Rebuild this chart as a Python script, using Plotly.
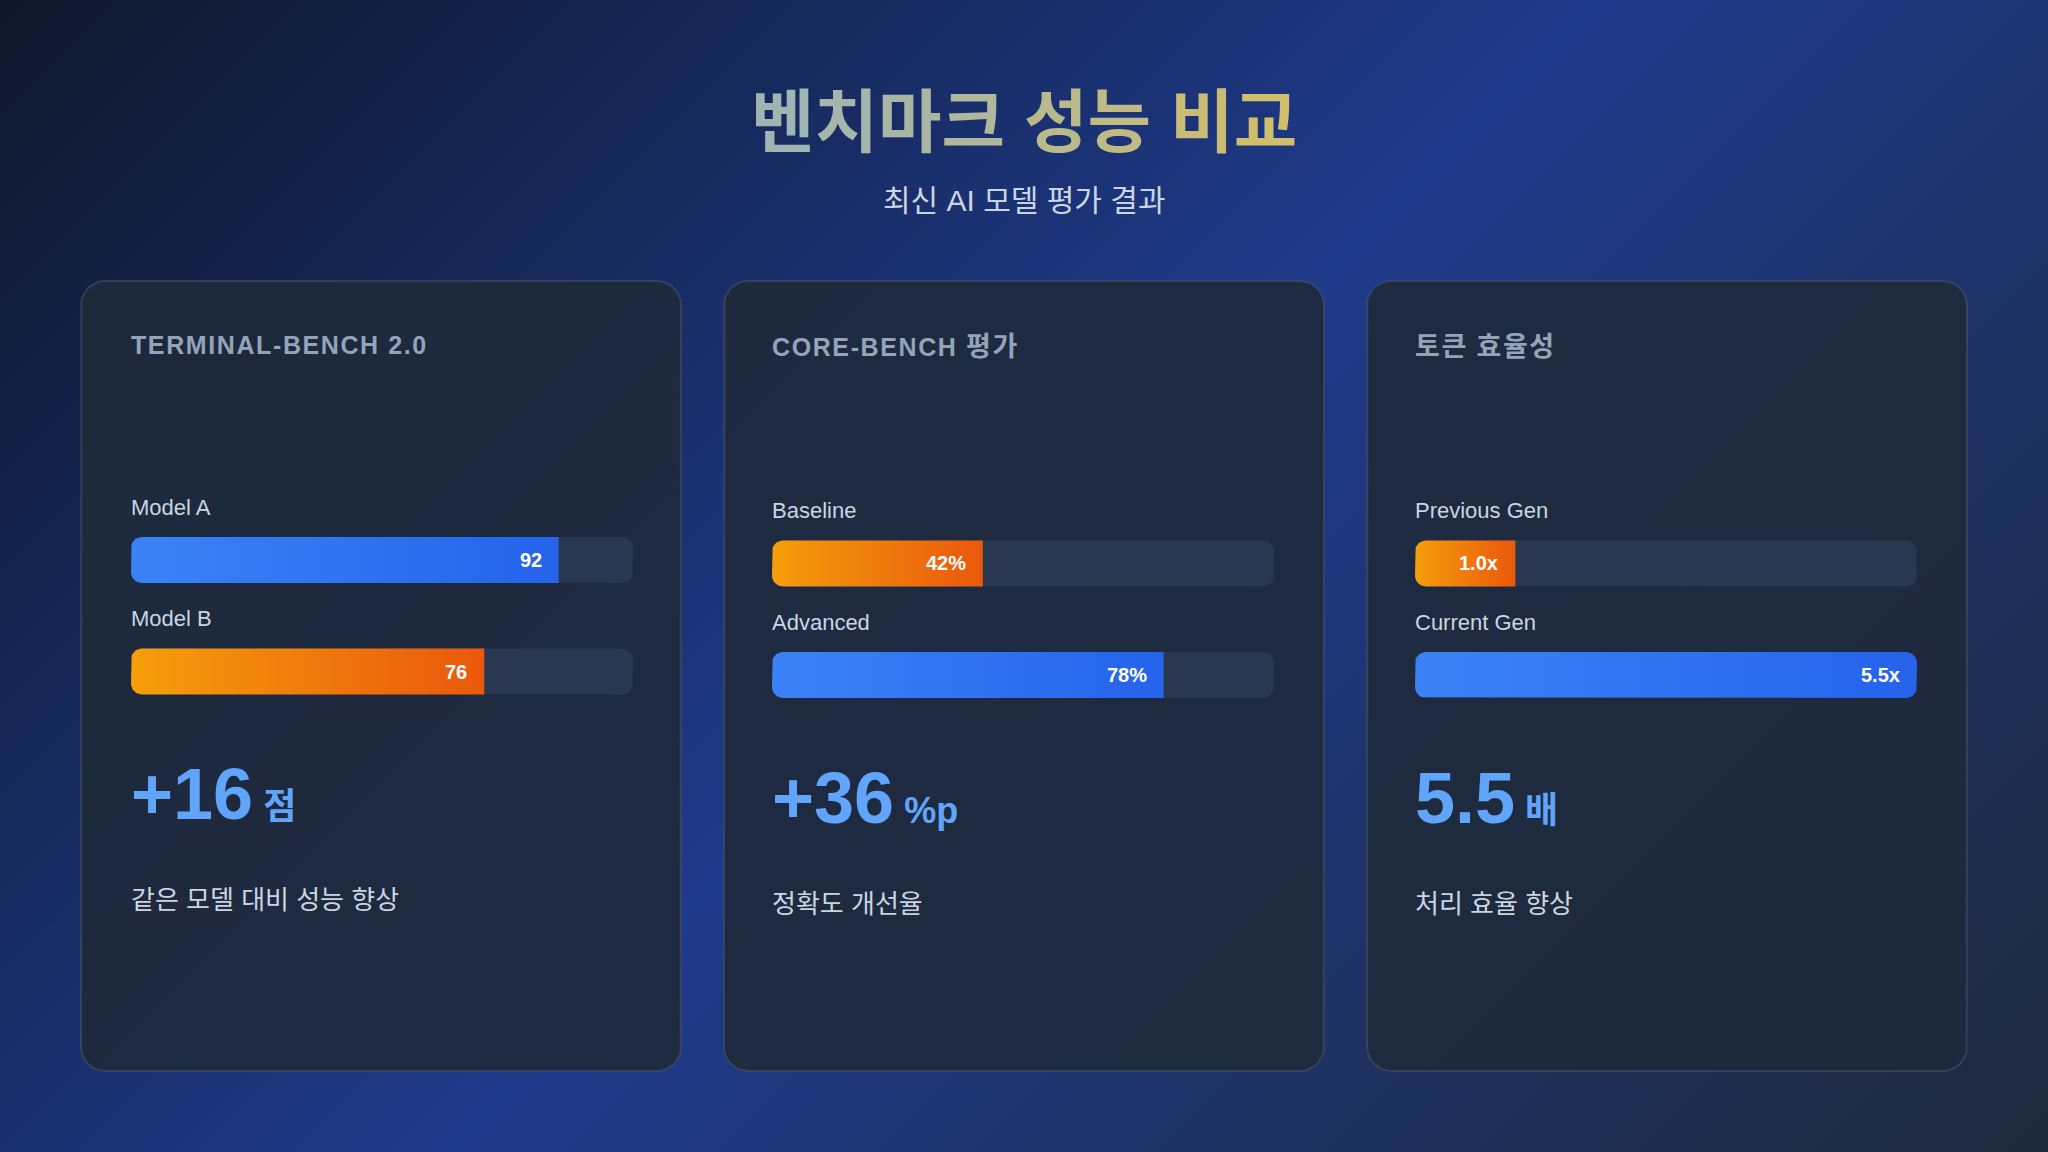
import re
import numpy as np
import plotly.graph_objects as go

W, H = 2048, 1152

# ---------------- data ----------------
title = "벤치마크 성능 비교"
subtitle = "최신 AI 모델 평가 결과"
card_titles = ["TERMINAL-BENCH 2.0", "CORE-BENCH 평가", "토큰 효율성"]

card1_labels = ["Model A", "Model B"]
card1_values = [92, 76]
card1_text = ["92", "76"]

card2_labels = ["Baseline", "Advanced"]
card2_values = [42, 78]
card2_text = ["42%", "78%"]

card3_labels = ["Previous Gen", "Current Gen"]
card3_values = [1.0, 5.5]
card3_text = ["1.0x", "5.5x"]

highlight_values = ["+16", "+36", "5.5"]
highlight_units = ["점", "%p", "배"]
descriptions = ["같은 모델 대비 성능 향상", "정확도 개선율", "처리 효율 향상"]

# ---------------- style / layout constants ----------------
FONT = "Liberation Sans, Arial, Noto Sans CJK KR, sans-serif"
BLUE = ["#3b82f6", "#2563eb"]
ORANGE = ["#f59e0b", "#ea580c"]
cards = [
    dict(labels=card1_labels, values=card1_values, text=card1_text, xmax=108,
         colors=[BLUE, ORANGE]),
    dict(labels=card2_labels, values=card2_values, text=card2_text, xmax=100,
         colors=[ORANGE, BLUE]),
    dict(labels=card3_labels, values=card3_values, text=card3_text, xmax=5.0,
         colors=[ORANGE, BLUE]),
]
CARD_X = [81, 724, 1367]
CARD_W = 600
CARD_TOP, CARD_BOT = 281, 1071
CARD_R = 24
TRACK_X = [131, 772, 1415]
TRACK_W = 502
BAR_H = 46
BAR_R = 11
ROW_GAP = 111.5
BAR_C0 = [560, 563.5, 563.5]
TITLE_Y = [345, 347, 347]
BIG_Y = [794, 798, 798]
DESC_Y = [900, 904, 904]

TRACK_COLOR = "rgb(41,55,80)"


def rrect(x0, x1, yc, hh, rx, ry, n=10):
    pts = []
    corners = [(x1 - rx, yc - hh + ry, -90, 0), (x1 - rx, yc + hh - ry, 0, 90),
               (x0 + rx, yc + hh - ry, 90, 180), (x0 + rx, yc - hh + ry, 180, 270)]
    for cx, cy, a0, a1 in corners:
        for a in np.linspace(a0, a1, n):
            t = np.radians(a)
            pts.append((cx + rx * np.cos(t), cy + ry * np.sin(t)))
    pts.append(pts[0])
    return [p[0] for p in pts], [p[1] for p in pts]


def py(p):
    return 1 - p / H


def hangul_bigger(s, size):
    return re.sub(r"([\uac00-\ud7a3]+)",
                  lambda m: f"<span style='font-size:{size}px'>{m.group(1)}</span>", s)


fig = go.Figure()

# background diagonal gradient (135deg)
fig.add_trace(go.Heatmap(
    x=[0, W], y=[0, H],
    z=[[0, W / (W + H)], [H / (W + H), 1]],
    zmin=0, zmax=1, zsmooth="best", showscale=False, hoverinfo="skip",
    colorscale=[[0, "#0f172a"], [0.5, "#1e3a8a"], [1, "#1e293b"]],
    xaxis="x", yaxis="y"))

# cards
for cx in CARD_X:
    xs, ys = rrect(cx, cx + CARD_W, (CARD_TOP + CARD_BOT) / 2, (CARD_BOT - CARD_TOP) / 2,
                   CARD_R, CARD_R)
    fig.add_trace(go.Scatter(x=xs, y=ys, mode="lines", fill="toself",
                             fillcolor="rgba(30,41,59,0.92)",
                             line=dict(color="rgba(71,85,105,0.55)", width=2),
                             hoverinfo="skip", showlegend=False, xaxis="x", yaxis="y"))

annotations = []

# title with per-character gradient colour
c_start = np.array([160, 180, 180])
c_end = np.array([208, 190, 108])
n = len(title)
spans = []
for i, ch in enumerate(title):
    c = c_start + (c_end - c_start) * i / (n - 1)
    spans.append(f"<span style='color:rgb({int(c[0])},{int(c[1])},{int(c[2])})'>{ch}</span>")
annotations.append(dict(text="<b>" + "".join(spans) + "</b>", x=0.5, y=py(124),
                        xref="paper", yref="paper", xanchor="center", yanchor="middle",
                        showarrow=False, font=dict(family=FONT, size=69)))
annotations.append(dict(text=subtitle, x=0.5, y=py(201), xref="paper", yref="paper",
                        xanchor="center", yanchor="middle", showarrow=False,
                        font=dict(family=FONT, size=30, color="#cbd5e1")))

layout_axes = {}
for k, card in enumerate(cards):
    ax = k + 2
    tx0 = TRACK_X[k]
    c0 = BAR_C0[k]
    c1 = c0 + ROW_GAP
    xmax = card["xmax"]
    sx = TRACK_W / xmax
    sy = ROW_GAP
    rx, ry = BAR_R / sx, BAR_R / sy
    hh = BAR_H / 2 / sy
    layout_axes[f"xaxis{ax}"] = dict(domain=[tx0 / W, (tx0 + TRACK_W) / W], range=[0, xmax],
                                     visible=False, fixedrange=True, anchor=f"y{ax}")
    layout_axes[f"yaxis{ax}"] = dict(domain=[py(c1 + ROW_GAP / 2), py(c0 - ROW_GAP / 2)],
                                     range=[1.5, -0.5], visible=False, fixedrange=True,
                                     anchor=f"x{ax}")
    for i, (lab, v, txt, cols) in enumerate(zip(card["labels"], card["values"],
                                                 card["text"], card["colors"])):
        xs, ys = rrect(0, xmax, i, hh, rx, ry)
        fig.add_trace(go.Scatter(x=xs, y=ys, mode="lines", fill="toself",
                                 fillcolor=TRACK_COLOR, line=dict(width=0),
                                 hoverinfo="skip", showlegend=False,
                                 xaxis=f"x{ax}", yaxis=f"y{ax}"))
        fx = [min(x, v) for x in xs]
        fig.add_trace(go.Scatter(x=fx, y=ys, mode="lines", fill="toself",
                                 fillgradient=dict(type="horizontal",
                                                   colorscale=[[0, cols[0]], [1, cols[1]]]),
                                 line=dict(width=0), hoverinfo="skip", showlegend=False,
                                 xaxis=f"x{ax}", yaxis=f"y{ax}"))
        annotations.append(dict(text=f"<b>{txt}</b>", x=min(v, xmax), y=i,
                                xref=f"x{ax}", yref=f"y{ax}",
                                xanchor="right", yanchor="middle", xshift=-15,
                                showarrow=False,
                                font=dict(family=FONT, size=20, color="white")))
        annotations.append(dict(text=lab, x=(tx0 - 2) / W, y=py((c0 if i == 0 else c1) - 53),
                                xref="paper", yref="paper", xanchor="left",
                                yanchor="middle", showarrow=False,
                                font=dict(family=FONT, size=22, color="#cbd5e1")))
    # card title
    ttl = hangul_bigger(card_titles[k], 27)
    annotations.append(dict(text=f"<b><span style='letter-spacing:1.6px'>{ttl}</span></b>",
                            x=(tx0 - 2) / W, y=py(TITLE_Y[k]), xref="paper", yref="paper",
                            xanchor="left", yanchor="middle", showarrow=False,
                            font=dict(family=FONT, size=25, color="#94a3b8")))
    # big highlight number
    annotations.append(dict(
        text=f"<b>{highlight_values[k]}<span style='font-size:36px'> {highlight_units[k]}</span></b>",
        x=(tx0 - 2) / W, y=py(BIG_Y[k]), xref="paper", yref="paper",
        xanchor="left", yanchor="middle", showarrow=False,
        font=dict(family=FONT, size=72, color="#60a5fa")))
    annotations.append(dict(text=descriptions[k], x=(tx0 - 2) / W, y=py(DESC_Y[k]),
                            xref="paper", yref="paper", xanchor="left", yanchor="middle",
                            showarrow=False, font=dict(family=FONT, size=26, color="#cbd5e1")))

fig.update_layout(
    width=W, height=H, margin=dict(l=0, r=0, t=0, b=0),
    paper_bgcolor="#0f172a", plot_bgcolor="rgba(0,0,0,0)",
    xaxis=dict(domain=[0, 1], range=[0, W], visible=False, fixedrange=True),
    yaxis=dict(domain=[0, 1], range=[H, 0], visible=False, fixedrange=True),
    annotations=annotations, showlegend=False,
    **layout_axes,
)

fig.write_html("out.html", config={"displayModeBar": False})
